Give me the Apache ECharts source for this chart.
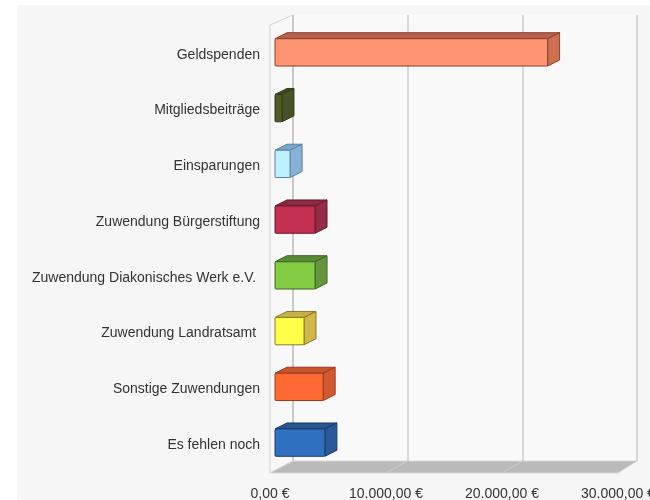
<!DOCTYPE html>
<html>
<head>
<meta charset="utf-8">
<script src="https://cdn.jsdelivr.net/npm/echarts@6/dist/echarts.min.js"></script>
<style>
  html, body { margin: 0; padding: 0; background: #fff; }
  #chart { width: 650px; height: 500px; }
</style>
</head>
<body>
<div id="chart"></div>
<script>
// categories top to bottom
const categories = [
  'Geldspenden',
  'Mitgliedsbeiträge',
  'Einsparungen',
  'Zuwendung Bürgerstiftung',
  'Zuwendung Diakonisches Werk e.V. ',
  'Zuwendung Landratsamt ',
  'Sonstige Zuwendungen',
  'Es fehlen noch'
];
const amounts = [23500, 600, 1300, 3450, 3450, 2500, 4150, 4300];
const ticks = [0, 10000, 20000, 30000];

// face colours: front, top, side, outline
const frontColors = ['#ff9473', '#4d5b29', '#bff0ff', '#c33052', '#84cc44', '#ffff4a', '#ff6a34', '#3070c0'];
const topColors   = ['#b6614c', '#3e4a20', '#7aa6cf', '#8a2a40', '#5a8c38', '#c8b048', '#c8542e', '#2a5590'];
const sideColors  = ['#cd704f', '#46522a', '#8ab2d8', '#932c44', '#65963e', '#d0b84c', '#d35a30', '#2c5a98'];
const edgeColors  = ['#8a4030', '#2e3a14', '#5a80a0', '#6a1a2c', '#3e6424', '#8a7a2a', '#9a3a1c', '#1a3a6a'];

const G1 = { left: 270, top: 27, width: 348, height: 446 };   // front plane
const G2 = { left: 293, top: 15, width: 344, height: 446 };   // back wall
const FX = 5, FY = -2.5;      // bar front face offset
const DX = 12, DY = -6;       // bar depth

const fmt = v => v.toLocaleString('de-DE', { minimumFractionDigits: 2, maximumFractionDigits: 2 }) + ' €';

const chart = echarts.init(document.getElementById('chart'));

function renderBar(params, api) {
  const i = params.dataIndex;
  const base = api.coord([0, api.value(1)]);
  const end = api.coord([api.value(0), api.value(1)]);
  const h = api.size([0, 1])[1] * 0.49;
  const x0 = base[0] + FX, x1 = end[0] + FX;
  const yT = base[1] - h / 2 + FY, yB = base[1] + h / 2 + FY;
  const stroke = { stroke: edgeColors[i], lineWidth: 1, lineJoin: 'round' };
  return {
    type: 'group',
    children: [
      {
        type: 'polygon',
        shape: { points: [[x0, yT], [x1, yT], [x1 + DX, yT + DY], [x0 + DX, yT + DY]] },
        style: Object.assign({ fill: topColors[i] }, stroke)
      },
      {
        type: 'polygon',
        shape: { points: [[x1, yT], [x1 + DX, yT + DY], [x1 + DX, yB + DY], [x1, yB]] },
        style: Object.assign({ fill: sideColors[i] }, stroke)
      },
      {
        type: 'rect',
        shape: { x: x0, y: yT, width: x1 - x0, height: yB - yT, r: 1 },
        style: Object.assign({ fill: frontColors[i] }, stroke)
      }
    ]
  };
}

chart.setOption({
  animation: false,
  textStyle: { fontFamily: 'Liberation Sans, Arial, sans-serif' },
  grid: [
    Object.assign({ outerBoundsMode: 'none', containLabel: false }, G1),
    Object.assign({ outerBoundsMode: 'none', containLabel: false }, G2)
  ],
  xAxis: [
    {
      gridIndex: 0, type: 'value', min: 0, max: 30000, interval: 10000,
      axisLine: { show: false }, axisTick: { show: false }, splitLine: { show: false },
      axisLabel: { formatter: fmt, color: '#333', fontSize: 14, margin: 14, hideOverlap: false }
    },
    {
      gridIndex: 1, type: 'value', min: 0, max: 30000, interval: 10000,
      axisLine: { show: false }, axisTick: { show: false }, axisLabel: { show: false },
      splitLine: { show: true, lineStyle: { color: '#cbcbcb', width: 1.5 } }
    }
  ],
  yAxis: [
    {
      gridIndex: 0, type: 'category', data: categories, inverse: true,
      axisLine: { show: false }, axisTick: { show: false }, splitLine: { show: false },
      axisLabel: { color: '#333', fontSize: 14, margin: 10 }
    },
    { gridIndex: 1, type: 'value', show: false, splitLine: { show: false } }
  ],
  series: [{
    type: 'custom',
    xAxisIndex: 0, yAxisIndex: 0,
    renderItem: renderBar,
    data: amounts.map((v, i) => [v, i]),
    z: 5
  }]
});

// floor and walls, placed from the two value axes
const fx = v => chart.convertToPixel({ xAxisIndex: 0 }, v);
const bx = v => chart.convertToPixel({ xAxisIndex: 1 }, v);
const fBot = G1.top + G1.height, bBot = G2.top + G2.height;
const fTop = G1.top - 2, bTop = G2.top;
const xMax = ticks[ticks.length - 1];

const floorLines = ticks.slice(1, -1).map(t => ({
  type: 'line', z: -4,
  shape: { x1: bx(t), y1: bBot, x2: fx(t), y2: fBot },
  style: { stroke: '#cdcdcd', lineWidth: 1 }
}));

chart.setOption({
  graphic: [
    { type: 'rect', z: -10, shape: { x: 17, y: 5, width: 633, height: 495 }, style: { fill: '#f6f6f6' } },
    { type: 'rect', z: -9, shape: { x: bx(0), y: bTop, width: bx(xMax) - bx(0), height: bBot - bTop }, style: { fill: '#f9f9f9' } },
    {
      type: 'polygon', z: -6,
      shape: { points: [[fx(0), fTop], [bx(0), bTop], [bx(0), bBot], [fx(0), fBot]] },
      style: { fill: '#f8f8f8', stroke: '#d2d2d2', lineWidth: 1 }
    },
    {
      type: 'line', z: -3,
      shape: { x1: bx(0), y1: bTop, x2: bx(0), y2: bBot },
      style: { stroke: '#b4b4b4', lineWidth: 1.5 }
    },
    {
      type: 'polygon', z: -5,
      shape: { points: [[fx(0), fBot], [fx(xMax), fBot], [bx(xMax), bBot], [bx(0), bBot]] },
      style: { fill: '#bababa', stroke: '#d8d8d8', lineWidth: 1 }
    }
  ].concat(floorLines)
});

window.addEventListener('resize', () => chart.resize());
</script>
</body>
</html>
